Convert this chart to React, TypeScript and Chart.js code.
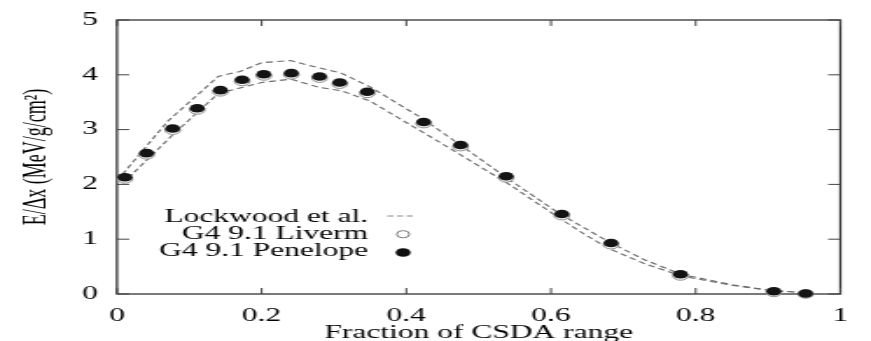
import React, { useEffect, useRef } from 'react';
import { Chart, registerables } from 'chart.js';

Chart.register(...registerables);

// ---- data ----
const simFraction = [0.011, 0.041, 0.077, 0.111, 0.143, 0.173, 0.203, 0.241, 0.280, 0.308, 0.346, 0.424, 0.475, 0.538, 0.615, 0.683, 0.779, 0.908, 0.952];
const penelopeValues = [2.13, 2.57, 3.02, 3.39, 3.72, 3.91, 4.01, 4.03, 3.97, 3.86, 3.69, 3.14, 2.72, 2.15, 1.46, 0.93, 0.36, 0.05, 0.01];
const livermValues = [2.10, 2.54, 2.99, 3.36, 3.69, 3.88, 3.98, 4.00, 3.94, 3.83, 3.66, 3.11, 2.69, 2.12, 1.43, 0.90, 0.33, 0.03, 0.0];

const lockwoodUpperFraction = [0.008, 0.07, 0.14, 0.17, 0.20, 0.24, 0.275, 0.31, 0.35, 0.42, 0.48, 0.54, 0.61, 0.68, 0.73, 0.78, 0.85, 0.90, 0.955];
const lockwoodUpperValues = [2.19, 3.15, 3.97, 4.06, 4.22, 4.26, 4.14, 4.03, 3.78, 3.22, 2.67, 2.11, 1.48, 0.95, 0.62, 0.36, 0.17, 0.07, 0.02];
const lockwoodLowerFraction = [0.008, 0.08, 0.14, 0.20, 0.24, 0.28, 0.31, 0.35, 0.414, 0.441, 0.54, 0.61, 0.645, 0.68, 0.73, 0.78, 0.85, 0.90, 0.955];
const lockwoodLowerValues = [2.02, 2.94, 3.66, 3.86, 3.92, 3.77, 3.71, 3.52, 3.02, 2.81, 2.02, 1.40, 1.10, 0.83, 0.55, 0.33, 0.16, 0.07, 0.02];

const xTickLabels = ['0', '0.2', '0.4', '0.6', '0.8', '1'];
const yTickLabels = ['0', '1', '2', '3', '4', '5'];
const seriesLabels = ['Lockwood et al.', 'G4 9.1 Liverm', 'G4 9.1 Penelope'];
const xTitle = 'Fraction of CSDA range';
const yTitle = 'E/Δx (MeV/g/cm²)';

// ---- layout ----
const OUT_W = 871;
const INNER_W = 498;
const H = 341;
const FONT = "'Liberation Serif', 'Times New Roman', serif";

const toPts = (xs: number[], ys: number[]) => xs.map((x, i) => ({ x, y: ys[i] }));

const framePlugin = {
  id: 'frameTicks',
  beforeDatasetsDraw(chart: any) {
    const { ctx, chartArea: a, scales } = chart;
    const xs = scales.x;
    const ys = scales.y;
    ctx.save();
    ctx.strokeStyle = '#333';
    ctx.lineWidth = 1.3;
    ctx.strokeRect(a.left, a.top, a.right - a.left, a.bottom - a.top);
    ctx.strokeStyle = '#444';
    ctx.lineWidth = 1;
    ctx.beginPath();
    xs.ticks.forEach((t: any) => {
      const px = xs.getPixelForValue(t.value);
      ctx.moveTo(px, a.bottom);
      ctx.lineTo(px, a.bottom - 6);
      ctx.moveTo(px, a.top);
      ctx.lineTo(px, a.top + 6);
    });
    ys.ticks.forEach((t: any) => {
      const py = ys.getPixelForValue(t.value);
      ctx.moveTo(a.left, py);
      ctx.lineTo(a.left + 7, py);
      ctx.moveTo(a.right, py);
      ctx.lineTo(a.right - 7, py);
    });
    ctx.stroke();
    ctx.restore();
  },
};

const titlePlugin = {
  id: 'axisTitles',
  afterDraw(chart: any) {
    const { ctx, chartArea: a } = chart;
    ctx.save();
    ctx.font = `18px ${FONT}`;
    ctx.fillStyle = '#000';
    ctx.textAlign = 'center';
    ctx.textBaseline = 'middle';
    ctx.fillText(xTitle, (a.left + a.right) / 2, a.bottom + 39.5);
    ctx.translate(a.left - 45.2, (a.top + a.bottom) / 2);
    ctx.rotate(-Math.PI / 2);
    ctx.fillText(yTitle, 0, 0);
    ctx.restore();
  },
};

const legendPlugin = {
  id: 'innerLegend',
  afterDraw(chart: any) {
    const { ctx, chartArea: a } = chart;
    const textRight = a.left + 143.6;
    const symX = a.left + 163.6;
    const rows = [a.top + 197.5, a.top + 214.7, a.top + 231.3];
    ctx.save();
    ctx.font = `18px ${FONT}`;
    ctx.fillStyle = '#000';
    ctx.textAlign = 'right';
    ctx.textBaseline = 'middle';
    seriesLabels.forEach((lab, i) => ctx.fillText(lab, textRight, rows[i]));
    ctx.strokeStyle = '#888';
    ctx.lineWidth = 1;
    ctx.setLineDash([3.5, 2]);
    ctx.beginPath();
    ctx.moveTo(symX - 9, rows[0] - 1.5);
    ctx.lineTo(symX + 7.5, rows[0] - 1.5);
    ctx.stroke();
    ctx.setLineDash([]);
    ctx.strokeStyle = '#777';
    ctx.beginPath();
    ctx.arc(symX, rows[1] - 0.5, 3.6, 0, Math.PI * 2);
    ctx.stroke();
    ctx.fillStyle = '#111';
    ctx.beginPath();
    ctx.arc(symX, rows[2] + 1.2, 4.3, 0, Math.PI * 2);
    ctx.fill();
    ctx.restore();
  },
};

export default function App() {
  const ref = useRef<HTMLCanvasElement | null>(null);

  useEffect(() => {
    if (!ref.current) return;
    const lineStyle = {
      showLine: true,
      borderColor: '#6a6a6a',
      borderWidth: 1.1,
      borderDash: [4, 2.5],
      pointRadius: 0,
      fill: false,
      tension: 0,
      clip: false as any,
    };
    const axisFont = { family: FONT, size: 18, lineHeight: 1 };
    const chart = new Chart(ref.current, {
      type: 'scatter',
      data: {
        datasets: [
          {
            label: seriesLabels[2],
            data: toPts(simFraction, penelopeValues),
            pointRadius: 4.3,
            pointBackgroundColor: '#141414',
            pointBorderColor: '#141414',
            pointBorderWidth: 0,
            clip: false as any,
          },
          {
            label: seriesLabels[1],
            data: toPts(simFraction, livermValues),
            pointRadius: 4.3,
            pointBackgroundColor: '#ffffff',
            pointBorderColor: '#8a8a8a',
            pointBorderWidth: 1,
            clip: false as any,
          },
          { label: seriesLabels[0], data: toPts(lockwoodUpperFraction, lockwoodUpperValues), ...lineStyle },
          { label: seriesLabels[0], data: toPts(lockwoodLowerFraction, lockwoodLowerValues), ...lineStyle },
        ],
      },
      options: {
        animation: false,
        responsive: false,
        devicePixelRatio: 1,
        events: [],
        layout: { padding: { top: 20, right: 12.6, bottom: 0, left: 0 } },
        plugins: { legend: { display: false }, tooltip: { enabled: false } },
        scales: {
          x: {
            type: 'linear',
            min: 0,
            max: 1,
            grid: { display: false, drawTicks: false },
            border: { display: false },
            afterFit: (s: any) => { s.height = 47; },
            ticks: {
              stepSize: 0.2,
              padding: 13,
              color: '#000',
              font: axisFont,
              callback: (_v: any, i: number) => xTickLabels[i],
              maxRotation: 0,
            },
            title: { display: false },
          },
          y: {
            type: 'linear',
            min: 0,
            max: 5,
            grid: { display: false, drawTicks: false },
            border: { display: false },
            afterFit: (s: any) => { s.width = 66.9; },
            ticks: {
              stepSize: 1,
              padding: 11,
              color: '#000',
              font: axisFont,
              callback: (_v: any, i: number) => yTickLabels[i],
            },
            title: { display: false },
          },
        },
      },
      plugins: [framePlugin, titlePlugin, legendPlugin],
    });
    return () => chart.destroy();
  }, []);

  return (
    <canvas
      ref={ref}
      width={INNER_W}
      height={H}
      style={{
        position: 'absolute',
        left: 0,
        top: 0,
        width: `${OUT_W}px`,
        height: `${H}px`,
        background: '#fff',
      }}
    />
  );
}
